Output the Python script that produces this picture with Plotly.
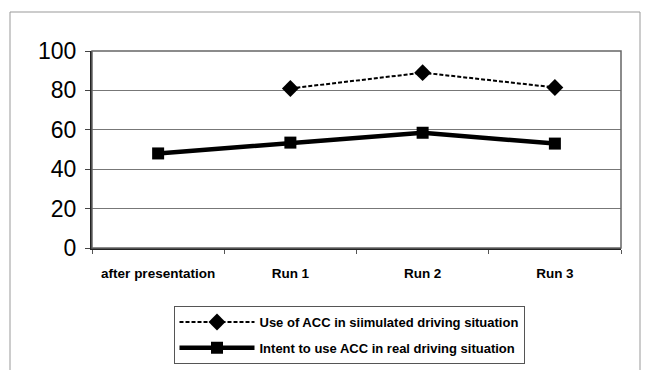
import plotly.graph_objects as go

categories = ["after presentation", "Run 1", "Run 2", "Run 3"]
simulated_use = [None, 81, 89, 81.5]
real_intent = [48, 53.5, 58.5, 53]
y_ticks = [0, 20, 40, 60, 80, 100]

W, H = 645, 370
ML, MR, MT, MB = 92, 24, 51, 122
pw, ph = W - ML - MR, H - MT - MB


def px_x(x):
    return (x - ML) / pw


def px_y(y):
    return (H - MB - y) / ph


fig = go.Figure()
fig.add_trace(go.Scatter(
    x=categories, y=simulated_use, mode="lines+markers",
    name="Use of ACC in siimulated driving situation", legendgroup="sim",
    line=dict(color="black", width=2, dash="4px,2px"),
    marker=dict(symbol="diamond", size=13, color="black"),
))
fig.add_trace(go.Scatter(
    x=categories, y=real_intent, mode="lines+markers",
    name="Intent to use ACC in real driving situation", legendgroup="real",
    line=dict(color="black", width=4.5),
    marker=dict(symbol="square", size=12, color="black"),
))

fig.update_layout(
    width=W, height=H,
    margin=dict(l=ML, r=MR, t=MT, b=MB, autoexpand=False),
    paper_bgcolor="white", plot_bgcolor="white",
    font=dict(family="Arial, Liberation Sans, sans-serif", color="black"),
    showlegend=True,
    legend=dict(
        x=px_x(349), y=px_y(306), xanchor="center", yanchor="top",
        bordercolor="#555555", borderwidth=1, bgcolor="white",
        font=dict(size=13, family="Arial, Liberation Sans, sans-serif", weight="bold"),
        itemwidth=75, tracegroupgap=6,
    ),
    xaxis=dict(
        type="category", showgrid=False, automargin=False,
        showline=True, linecolor="#222222", linewidth=2,
        ticks="outside", tickson="boundaries", ticklen=4, tickcolor="#555555",
        tickfont=dict(size=13.5, weight="bold"), ticklabelstandoff=12,
        range=[-0.5, 3.5],
    ),
    yaxis=dict(
        range=[0, 100], tickvals=y_ticks, automargin=False,
        showgrid=True, gridcolor="#777777", gridwidth=1,
        showline=True, linecolor="#222222", linewidth=2,
        ticks="outside", ticklen=5, tickcolor="#444444",
        tickfont=dict(size=23), zeroline=False, ticklabelstandoff=4,
    ),
    shapes=[
        dict(type="rect", xref="paper", yref="paper", x0=0, x1=1, y0=0, y1=1,
             line=dict(color="#666666", width=1.5), layer="above"),
        dict(type="rect", xref="paper", yref="paper",
             x0=px_x(10), x1=px_x(640), y0=px_y(372), y1=px_y(12),
             line=dict(color="#999999", width=1)),
    ],
)

fig.write_html("out.html")
